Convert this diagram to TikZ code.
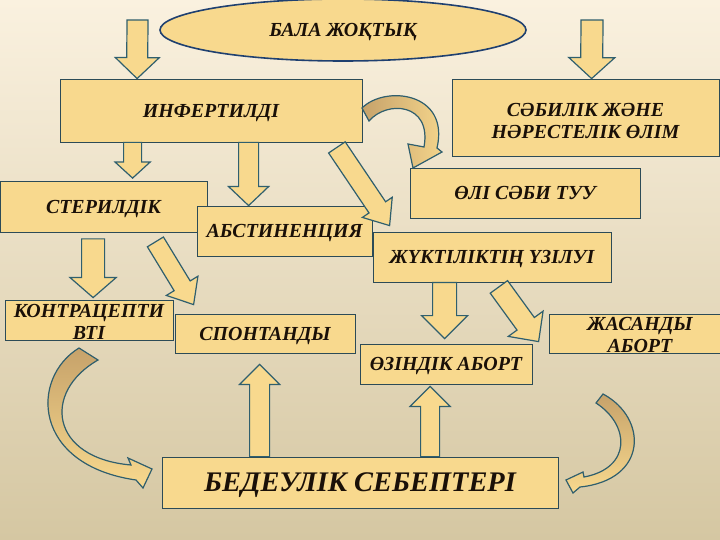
\documentclass[tikz,border=0pt]{standalone}
\usepackage{fontspec}
\setmainfont{Liberation Serif}
\usetikzlibrary{calc,shapes.geometric}
\definecolor{gold}{HTML}{F8D98E}
\definecolor{tanc}{HTML}{C6A26A}
\definecolor{edgec}{HTML}{2C4B57}
\definecolor{aedge}{HTML}{2F5F6E}
\definecolor{ellc}{HTML}{1F4070}
\definecolor{bgtop}{HTML}{FAF1DF}
\definecolor{bgmid}{HTML}{EEE4CB}
\definecolor{bgbot}{HTML}{D5C7A2}
\definecolor{txt}{HTML}{1A1008}
\newcommand\blockarrow[5]{%
  \coordinate (ba-base) at ($(#2)!#5!(#1)$);
  \filldraw[barrow] ($(#1)!#3!90:(#2)$) -- ($(ba-base)!#3!90:(#2)$) -- ($(ba-base)!#4!90:(#2)$) -- (#2)
    -- ($(ba-base)!#4!-90:(#2)$) -- ($(ba-base)!#3!-90:(#2)$) -- ($(#1)!#3!-90:(#2)$) -- cycle;}
\tikzset{
  lbl/.style={font=\fontsize{20}{22}\selectfont\bfseries\itshape, text=txt, align=center, inner sep=0},
  box/.style={draw=edgec, line width=0.8bp, fill=gold, inner sep=0, lbl, text depth=0pt},
  barrow/.style={fill=gold, draw=aedge, line width=1.2bp, line join=miter},
  carrow/.style={draw=aedge, line width=1.2bp, line join=miter},
}
\begin{document}
\begin{tikzpicture}[x=1bp,y=-1bp]
\useasboundingbox (0,0) rectangle (720,540);
\shade[top color=bgtop, middle color=bgmid, bottom color=bgbot] (0,0) rectangle (720,540);

% nodes
\node[box, ellipse, draw=ellc, line width=1.6bp, minimum width=366bp, minimum height=62bp] (bala) at (343,30) {БАЛА ЖОҚТЫҚ};
\node[box, minimum width=302bp, minimum height=63bp] (infert) at (211,110.5) {ИНФЕРТИЛДІ};
\node[box, minimum width=267bp, minimum height=77bp] (sabi) at (585.5,117.5) {};
\node[lbl] (sabit) at (585.5,121) {СӘБИЛІК ЖӘНЕ\\НӘРЕСТЕЛІК ӨЛІМ};
\node[box, minimum width=207bp, minimum height=51bp] (steril) at (103.5,207) {СТЕРИЛДІК};
\node[box, minimum width=175bp, minimum height=50bp] (abst) at (284.5,231) {АБСТИНЕНЦИЯ};
\node[box, minimum width=230bp, minimum height=50bp] (oli) at (525,193) {ӨЛІ СӘБИ ТУУ};
\node[box, minimum width=238bp, minimum height=50bp] (zhukt) at (492,257) {ЖҮКТІЛІКТІҢ ҮЗІЛУІ};
\node[box, minimum width=168bp, minimum height=40bp] (kontr) at (89,320) {};
\node[lbl] (kontrt) at (89,322) {КОНТРАЦЕПТИ\\ВТІ};
\node[box, minimum width=180bp, minimum height=39bp] (spont) at (265,333.5) {СПОНТАНДЫ};
\node[box, minimum width=172bp, minimum height=40bp] (ozin) at (446,364) {ӨЗІНДІК АБОРТ};
\node[box, minimum width=181bp, minimum height=39bp] (zhas) at (639.5,333.5) {};
\node[lbl] (zhast) at (640,335) {ЖАСАНДЫ\\АБОРТ};
\node[box, minimum width=396bp, minimum height=51bp, font=\fontsize{28.5}{32}\selectfont\bfseries\itshape] (bedeu) at (360,482.5) {БЕДЕУЛІК СЕБЕПТЕРІ};

% straight block arrows
\coordinate (a1s) at (137.5,20);
\coordinate (a1t) at ([xshift=77.5bp]infert.north west);
\blockarrow{a1s}{a1t}{10.5bp}{22bp}{21bp}
\coordinate (a2s) at (592,20);
\coordinate (a2t) at ([xshift=140bp]sabi.north west);
\blockarrow{a2s}{a2t}{11bp}{23bp}{21bp}
\coordinate (a3s) at ([xshift=73bp]infert.south west);
\coordinate (a3t) at ([xshift=133bp,yshift=3bp]steril.north west);
\blockarrow{a3s}{a3t}{9bp}{17.5bp}{16bp}
\coordinate (a4s) at ([xshift=189bp]infert.south west);
\coordinate (a4t) at ([xshift=52bp]abst.north west);
\blockarrow{a4s}{a4t}{10bp}{20bp}{19bp}
\coordinate (a5s) at ([xshift=93.5bp,yshift=-6bp]steril.south west);
\coordinate (a5t) at ([xshift=88.5bp,yshift=2bp]kontr.north west);
\blockarrow{a5s}{a5t}{11.5bp}{23bp}{20bp}
\coordinate (a6s) at ([xshift=72bp]zhukt.south west);
\coordinate (a6t) at ([xshift=85bp,yshift=5bp]ozin.north west);
\blockarrow{a6s}{a6t}{12bp}{23bp}{23bp}
\coordinate (a7s) at ([xshift=98bp]bedeu.north west);
\coordinate (a7t) at ([xshift=85bp,yshift=-11bp]spont.south west);
\blockarrow{a7s}{a7t}{10bp}{20bp}{20bp}
\coordinate (a8s) at ([xshift=268.5bp]bedeu.north west);
\coordinate (a8t) at ([xshift=70.5bp,yshift=-2bp]ozin.south west);
\blockarrow{a8s}{a8t}{9.5bp}{20bp}{20bp}
\coordinate (d1s) at ([xshift=-25.5bp,yshift=-5bp]infert.south east);
\coordinate (d1t) at ([xshift=17bp,yshift=6bp]zhukt.north west);
\blockarrow{d1s}{d1t}{10bp}{18bp}{22bp}
\coordinate (d2s) at ([xshift=-52bp,yshift=-9bp]steril.south east);
\coordinate (d2t) at ([xshift=19bp,yshift=9bp]spont.north west);
\blockarrow{d2s}{d2t}{9.4bp}{18.5bp}{22bp}
\coordinate (d3s) at ([xshift=-112.5bp,yshift=-4.5bp]zhukt.south east);
\coordinate (d3t) at ([xshift=-10bp,yshift=-28bp]zhas.north west);
\blockarrow{d3s}{d3t}{10.7bp}{21.5bp}{22bp}

% curved arrows
\filldraw[carrow, left color=tanc, right color=gold]
  (362,108) .. controls (385,85) and (450,92) .. (437,148) -- (442,152) -- (413,168) -- (408,144) -- (424,147)
  .. controls (432,103) and (387,100) .. (369,121) -- cycle;
\filldraw[carrow, top color=tanc, bottom color=gold]
  (79,348) .. controls (30,378) and (32,465) .. (136,480) -- (143,488) -- (152,469) -- (128,458) -- (131,465)
  .. controls (50,458) and (42,392) .. (98,360) -- cycle;
\filldraw[carrow, top color=tanc, bottom color=gold]
  (603,394) .. controls (648,418) and (648,480) .. (580,487) -- (573,493) -- (566,480) -- (583,472) -- (584,477)
  .. controls (632,468) and (630,425) .. (596,403) -- cycle;
\end{tikzpicture}
\end{document}
